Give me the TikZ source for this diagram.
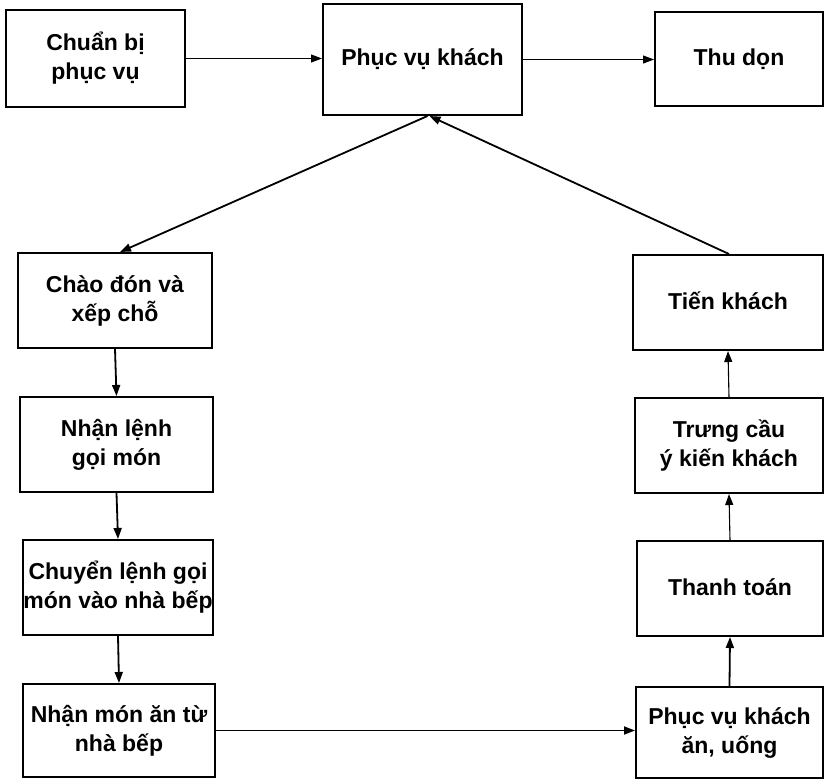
\documentclass[tikz,border=0pt]{standalone}
\usepackage{fontspec}
\setmainfont{Liberation Sans}
\usetikzlibrary{arrows.meta,positioning}
\begin{document}
\begin{tikzpicture}[x=1pt,y=-1pt,
  stepbox/.style={draw=black,line width=2pt,align=center,inner sep=0pt,
    font=\fontsize{23}{29}\selectfont\bfseries},
  arr/.style={line width=1.8pt,-{Triangle[length=11pt,width=8pt]}},
  thinarr/.style={line width=1.1pt,-{Triangle[length=11pt,width=8pt]}}]
\useasboundingbox (0,0) rectangle (825,780);
% box(name, x1, y1, x2, y2, text)
\newcommand\flowbox[6]{%
  \node[stepbox,minimum width={#4-#2},minimum height={#5-#3}]
    (#1) at ({(#2+#4)/2},{(#3+#5)/2}) {#6};}
\newcommand\oneline[1]{\raisebox{3pt}{#1}}
% top row
\flowbox{prep}{6}{10}{185}{107}{Chuẩn bị\\phục vụ}
\flowbox{serve}{323}{4}{522}{115}{\oneline{Phục vụ khách}}
\flowbox{clear}{655}{12}{823}{106}{\oneline{Thu dọn}}
% left column
\flowbox{greet}{18}{253}{212}{348}{Chào đón và\\xếp chỗ}
\flowbox{order}{20}{397}{213}{492}{Nhận lệnh\\gọi món}
\flowbox{pass}{23}{540}{213}{635}{Chuyển lệnh gọi\\món vào nhà bếp}
\flowbox{fetch}{23}{684}{215}{777}{Nhận món ăn từ\\nhà bếp}
% right column
\flowbox{farewell}{633}{255}{823}{350}{\oneline{Tiến khách}}
\flowbox{survey}{635}{398}{823}{493}{Trưng cầu\\ý kiến khách}
\flowbox{pay}{637}{541}{823}{636}{\oneline{Thanh toán}}
\flowbox{dine}{636}{687}{823}{778}{Phục vụ khách\\ăn, uống}
% connectors
\draw[thinarr] (prep.east) -- (prep.east -| serve.west);
\draw[thinarr] (serve.east) -- (serve.east -| clear.west);
\draw[arr] ([xshift=5pt]serve.south) -- ([xshift=5pt]greet.north);
\draw[arr] (greet.south) -- (order.north);
\draw[arr] (order.south) -- (pass.north);
\draw[arr] (pass.south) -- (fetch.north);
\draw[arr] (fetch.east) -- (fetch.east -| dine.west);
\draw[arr] (dine.north) -- (pay.south);
\draw[thinarr] (pay.north) -- (survey.south);
\draw[thinarr] (survey.north) -- (farewell.south);
\draw[arr] ([xshift=1pt]farewell.north) -- ([xshift=7pt]serve.south);
\end{tikzpicture}
\end{document}
